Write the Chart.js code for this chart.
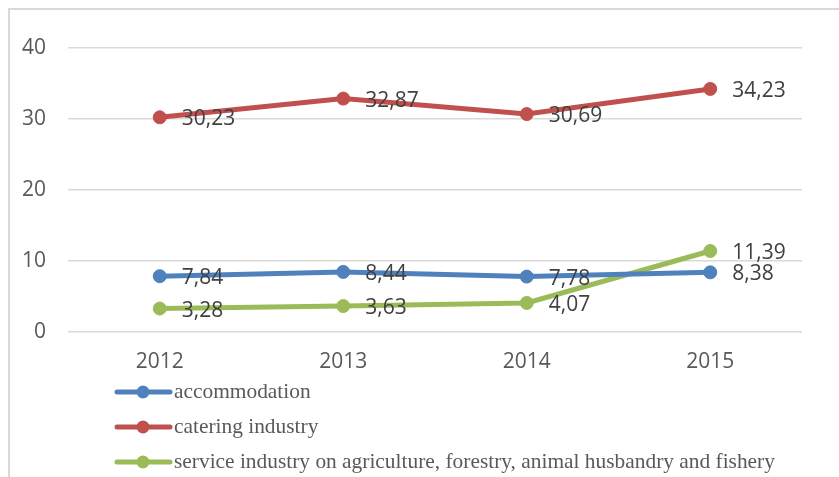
<!DOCTYPE html>
<html>
<head>
<meta charset="utf-8">
<script src="https://cdn.jsdelivr.net/npm/chart.js@4"></script>
<style>
  html,body{margin:0;padding:0;background:#fff;overflow:hidden;}
  #wrap{position:relative;width:839px;height:477px;}
  #frame{position:absolute;left:8px;top:8px;width:900px;height:520px;border:2px solid #d9d9d9;box-sizing:border-box;}
  canvas{position:absolute;left:0;top:0;}
</style>
</head>
<body>
<div id="wrap">
  <div id="frame"></div>
  <canvas id="chart" width="839" height="477"></canvas>
</div>
<script>
// ====== DATA ======
const years = ['2012', '2013', '2014', '2015'];
const accommodation = [7.84, 8.44, 7.78, 8.38];
const catering = [30.23, 32.87, 30.69, 34.23];
const serviceAgri = [3.28, 3.63, 4.07, 11.39];
const seriesNames = [
  'accommodation',
  'catering industry',
  'service industry on agriculture, forestry, animal husbandry and fishery'
];
const yTicks = [0, 10, 20, 30, 40];

const colors = ['#4f81bd', '#c0504d', '#9bbb59'];

function fmt(v){ return v.toFixed(2).replace('.', ','); }

// ====== PLUGINS ======
const valueLabels = {
  id: 'valueLabels',
  afterDatasetsDraw(chart){
    const ctx = chart.ctx;
    ctx.save();
    ctx.font = '21px "Open Sans"';
    ctx.fillStyle = '#404040';
    ctx.textAlign = 'left';
    ctx.textBaseline = 'middle';
    chart.data.datasets.forEach((ds, i) => {
      chart.getDatasetMeta(i).data.forEach((pt, j) => {
        ctx.fillText(fmt(ds.data[j]), pt.x + 22, pt.y + 2);
      });
    });
    ctx.restore();
  }
};

const sideLegend = {
  id: 'sideLegend',
  afterDraw(chart){
    const ctx = chart.ctx;
    ctx.save();
    ctx.font = '21.4px "Liberation Serif"';
    ctx.textBaseline = 'middle';
    const rowY = [392, 427, 462];
    chart.data.datasets.forEach((ds, i) => {
      const y = rowY[i];
      ctx.strokeStyle = ds.borderColor;
      ctx.lineWidth = 5;
      ctx.lineCap = 'round';
      ctx.beginPath(); ctx.moveTo(117, y); ctx.lineTo(170, y); ctx.stroke();
      ctx.fillStyle = ds.borderColor;
      ctx.beginPath(); ctx.arc(143, y, 6.5, 0, Math.PI*2); ctx.fill();
      ctx.fillStyle = '#595959';
      ctx.fillText(ds.label, 174, y);
    });
    ctx.restore();
  }
};

// ====== CHART ======
const seriesData = [accommodation, catering, serviceAgri];
new Chart(document.getElementById('chart'), {
  type: 'line',
  data: {
    labels: years,
    datasets: seriesData.map((d, i) => ({
      label: seriesNames[i],
      data: d,
      borderColor: colors[i],
      backgroundColor: colors[i],
      borderWidth: 5,
      pointRadius: 6.5,
      pointBorderWidth: 1,
      pointHoverRadius: 6.5,
      tension: 0
    }))
  },
  options: {
    responsive: false,
    animation: false,
    layout: { padding: { top: 48, right: 37, bottom: 92, left: 0 } },
    plugins: { legend: { display: false }, tooltip: { enabled: false } },
    scales: {
      x: {
        offset: true,
        grid: { display: false },
        border: { display: false },
        ticks: { font: { family: 'Open Sans', size: 21 }, color: '#595959', padding: 10 }
      },
      y: {
        min: 0, max: 40,
        afterFit(scale){ scale.width = 68; },
        afterBuildTicks(scale){ scale.ticks = yTicks.map(v => ({ value: v })); },
        grid: { color: '#d9d9d9', lineWidth: 1.5, drawTicks: false },
        border: { display: false },
        ticks: { font: { family: 'Open Sans', size: 21 }, color: '#595959', padding: 22 }
      }
    }
  },
  plugins: [valueLabels, sideLegend]
});
</script>
</body>
</html>
